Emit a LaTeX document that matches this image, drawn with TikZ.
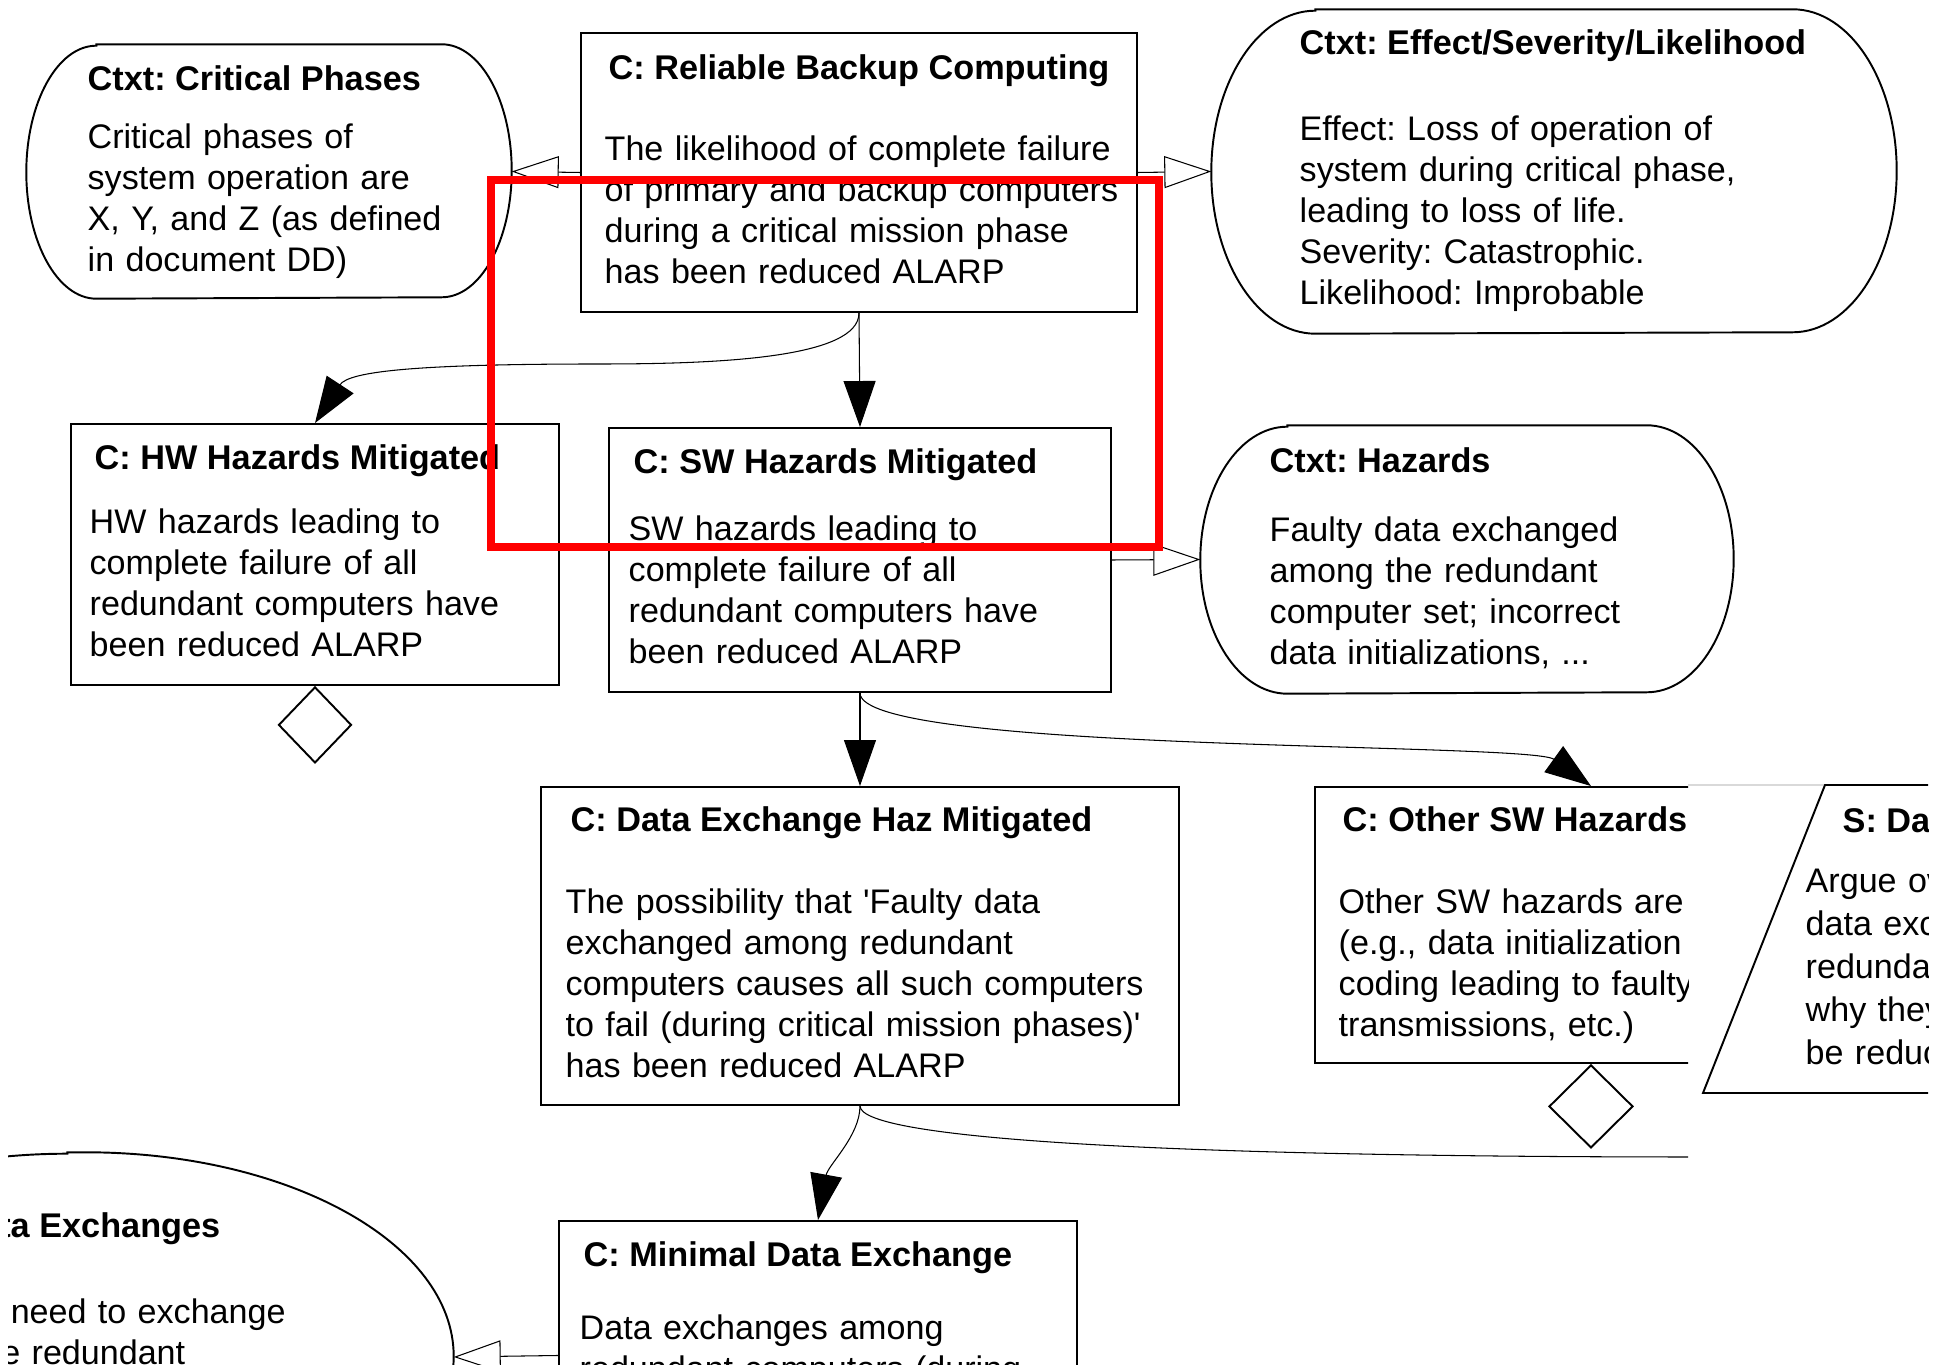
\documentclass[tikz,border=0pt]{standalone}
\usepackage{fontspec}
\setmainfont{Liberation Sans}[Ligatures=TeXOff]
\usetikzlibrary{arrows.meta,fit,shapes.geometric}
\frenchspacing

\newcommand\ctxtline[3]{%
    \draw[ctxt] ([shift={(#2,0)}]#1.north west) -- ([shift={(-#2,0)}]#1.north east)
        arc[start angle=-90,end angle=90,x radius=#2,y radius=#3]
        -- ([shift={(#2,0)}]#1.south west)
        arc[start angle=90,end angle=270,x radius=#2,y radius=#3] -- cycle;}

\begin{document}
\begin{tikzpicture}[x=0.1mm,y=-0.1mm,
        font=\fontsize{9.7pt}{11.65pt}\selectfont,
        box/.style={draw,line width=0.55pt,inner sep=0pt},
        hold/.style={inner sep=0pt},
        ctxt/.style={line width=0.55pt},
        txt/.style={inner sep=0pt,anchor=base west,align=left,text width=80mm},
        ttl/.style={inner sep=0pt,anchor=base west,font=\fontsize{9.75pt}{11.65pt}\selectfont\bfseries},
        solved/.style={line width=0.3pt,-{Triangle[length=4.6mm,width=3.2mm]}},
        incontext/.style={line width=0.3pt,-{Triangle[open,length=4.7mm,width=3.2mm]}},
        link/.style={line width=0.3pt},
        undev/.style={draw,diamond,line width=0.55pt,inner sep=0pt,anchor=north}]
    \useasboundingbox (0,0) rectangle (1954,1365);
    \begin{scope}
        \clip (8,0) -- (1954,0) -- (1954,784) -- (1688,784) -- (1688,1365) -- (8,1365) -- cycle;
        \node[hold,fit={(27,45) (511,298)}] (cp) {};
        \ctxtline{cp}{70}{126.5}
        \node[ttl] (cp-t) at (87,91) {Ctxt: Critical Phases};
        \node[txt] (cp-b) at (87,149) {Critical phases of\\system operation are\\X, Y, and Z (as defined\\in document DD)};
        \node[box,fit={(581,33) (1137,312)}] (rbc) {};
        \node[ttl] (rbc-t) at (608,80) {C: Reliable Backup Computing};
        \node[txt] (rbc-b) at (604,161) {The likelihood of complete failure\\of primary and backup computers\\during a critical mission phase\\has been reduced ALARP};
        \node[hold,fit={(1212,10) (1896,333)}] (esl) {};
        \ctxtline{esl}{104}{161.5}
        \node[ttl] (esl-t) at (1299,55) {Ctxt: Effect/Severity/Likelihood};
        \node[txt] (esl-b) at (1299,141) {Effect: Loss of operation of\\system during critical phase,\\leading to loss of life.\\Severity: Catastrophic.\\Likelihood: Improbable};
        \node[box,fit={(71,424) (559,685)}] (hw) {};
        \node[ttl] (hw-t) at (94,470) {C: HW Hazards Mitigated};
        \node[txt] (hw-b) at (89,534) {HW hazards leading to\\complete failure of all\\redundant computers have\\been reduced ALARP};
        \node[undev,minimum width=7.3mm,minimum height=7.6mm] (hw-u) at (hw.south) {};
        \node[box,fit={(609,428) (1111,692)}] (sw) {};
        \node[ttl] (sw-t) at (633,474) {C: SW Hazards Mitigated};
        \node[txt] (sw-b) at (628,541) {SW hazards leading to\\complete failure of all\\redundant computers have\\been reduced ALARP};
        \node[hold,fit={(1201,426) (1733,693)}] (hz) {};
        \ctxtline{hz}{87}{133.5}
        \node[ttl] (hz-t) at (1269,473) {Ctxt: Hazards};
        \node[txt] (hz-b) at (1269,542) {Faulty data exchanged\\among the redundant\\computer set; incorrect\\data initializations, ...};
        \node[box,fit={(541,787) (1179,1105)}] (de) {};
        \node[ttl] (de-t) at (570,832) {C: Data Exchange Haz Mitigated};
        \node[txt] (de-b) at (565,914) {The possibility that 'Faulty data\\exchanged among redundant\\computers causes all such computers\\to fail (during critical mission phases)'\\has been reduced ALARP};
        \node[box,fit={(1315,787) (1867,1063)}] (osw) {};
        \node[ttl] (osw-t) at (1342,832) {C: Other SW Hazards};
        \node[txt] (osw-b) at (1338,914) {Other SW hazards are\\(e.g., data initialization\\coding leading to faulty\\transmissions, etc.)};
        \node[undev,minimum width=8.4mm,minimum height=8.3mm] (osw-u) at (osw.south) {};
        \node[box,fit={(559,1221) (1077,1490)}] (mde) {};
        \node[ttl] (mde-t) at (583,1267) {C: Minimal Data Exchange};
        \node[txt] (mde-b) at (579,1340) {Data exchanges among\\redundant computers (during};
        \node[hold,fit={(-300,1153) (453,1561)}] (dx) {};
        \ctxtline{dx}{368}{204}
        \node[ttl,anchor=base east] (dx-t) at (221,1238) {Ctxt: Data Exchanges};
        \node[txt] (dx-b) at (-168,1324) {Computers need to exchange\\between the redundant};
        \coordinate (hwbend) at (600,364);
        \coordinate (deright) at (1700,1157);
        \draw[solved] (rbc.south) -- (sw.north);
        \draw[solved] (rbc.south) .. controls +(0,45) and +(120,0) .. (hwbend) .. controls +(-180,0) and +(34,-52) .. (hw.north);
        \draw[solved] (sw.south) -- (de.north);
        \draw[solved] (sw.south) .. controls +(0,60) and +(-61,-44) .. (osw.north);
        \draw[solved] (de.south) .. controls +(0,30) and +(10,-55) .. (mde.north);
        \draw[link] (de.south) .. controls +(0,35) and +(-500,0) .. (deright);
        \draw[incontext] (rbc.west) -- (cp.east);
        \draw[incontext] (rbc.east) -- (esl.west);
        \draw[incontext] (sw.east) -- (hz.west);
        \draw[incontext] (mde.west) -- (dx.east);
    \end{scope}
    \begin{scope}
        \clip (1688,784) rectangle (1928,1365);
        \draw[gray!30,line width=0.3pt] (1688,785) -- (1825,785);
        \draw[line width=0.55pt] (1960,785) -- (1825,785) -- (1703,1093) -- (1960,1093);
        \node[ttl] (st-t) at (1842,833) {S: Data Exchange};
        \node[txt,font=\fontsize{9.7pt}{12.2pt}\selectfont] (st-b) at (1805,893) {Argue over each\\data exchange among\\redundant computers and\\why they cannot\\be reduced};
    \end{scope}
    \draw[red,line width=0.85mm] (491,180) rectangle (1159,547);
\end{tikzpicture}
\end{document}
